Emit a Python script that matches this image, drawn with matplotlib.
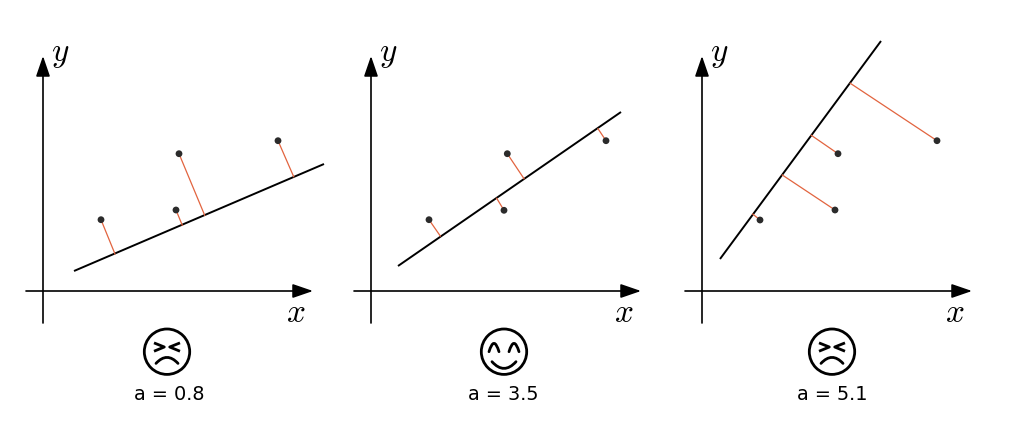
import matplotlib
matplotlib.use("Agg")
import matplotlib.pyplot as plt
from matplotlib.patches import Circle, PathPatch
from matplotlib.path import Path

plt.rcParams['mathtext.fontset'] = 'cm'

etiquetas = ["a = 0.8", "a = 3.5", "a = 5.1"]
caras = ["mal", "bien", "mal"]
cara_x = [167, 504, 832]
texto_x = [169.5, 503, 832]
eje_y_x = [43, 371, 702]
recta_x = [[74, 324], [398, 621], [720, 881]]
recta_y = [[271, 164], [266, 112], [259, 41]]
puntos_x = [[101, 179, 176, 278], [429, 507.3, 504, 606], [760, 838, 835, 937]]
puntos_y = [[219.7, 153.7, 210, 140.7], [219.7, 153.7, 210.3, 140.7], [220, 153.7, 210, 140.7]]
pies_x = [[115, 204.7, 182.3, 293.7], [440.3, 524, 496.7, 598], [752.7, 811.3, 782.3, 850.3]]
pies_y = [[254, 215.3, 225.3, 176.7], [236, 178.7, 198.3, 128.7], [214, 135.3, 175, 83.3]]


def curva(ax, p0, p1, p2, lw=2.0):
    path = Path([p0, p1, p2], [Path.MOVETO, Path.CURVE3, Path.CURVE3])
    ax.add_patch(PathPatch(path, fill=False, edgecolor='black', lw=lw, capstyle='round'))


def flecha(ax, ini, fin):
    ax.annotate("", xy=fin, xytext=ini,
                arrowprops=dict(arrowstyle='-|>,head_length=1.25,head_width=0.43', color='black',
                                lw=1.2, shrinkA=0, shrinkB=0))


def dibujar_cara(ax, cx, tipo):
    cy = 351.7
    ax.add_patch(Circle((cx, cy), 22.7, fill=False, edgecolor='black', lw=2.0))
    if tipo == "bien":
        curva(ax, (cx - 15, cy), (cx - 10, cy - 16.7), (cx - 5, cy))
        curva(ax, (cx + 5, cy), (cx + 10, cy - 16.7), (cx + 15, cy))
        curva(ax, (cx - 12, cy + 10), (cx, cy + 23.4), (cx + 12, cy + 10))
    else:
        ax.plot([cx - 11.7, cx - 2.7, cx - 11.7], [cy - 8.3, cy - 4.7, cy - 1], color='black', lw=2.0)
        ax.plot([cx + 11.7, cx + 2.7, cx + 11.7], [cy - 8.3, cy - 4.7, cy - 1], color='black', lw=2.0)
        curva(ax, (cx - 11, cy + 11.7), (cx, cy - 0.3), (cx + 11, cy + 11.7))


fig = plt.figure(figsize=(10.1, 4.25), dpi=100)
ax = fig.add_axes([0, 0, 1, 1])
ax.set_xlim(0, 1010)
ax.set_ylim(425, 0)
ax.axis('off')

for i in range(3):
    x0 = eje_y_x[i]
    # ejes
    flecha(ax, (x0, 323), (x0, 56))
    flecha(ax, (x0 - 17, 291), (x0 + 270, 291))
    ax.text(x0 + 17, 53, r"$y$", fontsize=24, ha='center', va='center')
    ax.text(x0 + 253, 312, r"$x$", fontsize=24, ha='center', va='center')

    # recta y distancias
    ax.plot(recta_x[i], recta_y[i], color='black', lw=1.4, solid_capstyle='butt')
    for px, py, fx, fy in zip(puntos_x[i], puntos_y[i], pies_x[i], pies_y[i]):
        ax.plot([px, fx], [py, fy], color='#e2643f', lw=0.9, zorder=2)
    ax.scatter(puntos_x[i], puntos_y[i], s=24, color='#2b2b2b', edgecolors='none', zorder=3)

    dibujar_cara(ax, cara_x[i], caras[i])
    ax.text(texto_x[i], 394, etiquetas[i], fontsize=13.9, ha='center', va='center', color='black')

fig.savefig("out.png", dpi=100)
plt.close(fig)
